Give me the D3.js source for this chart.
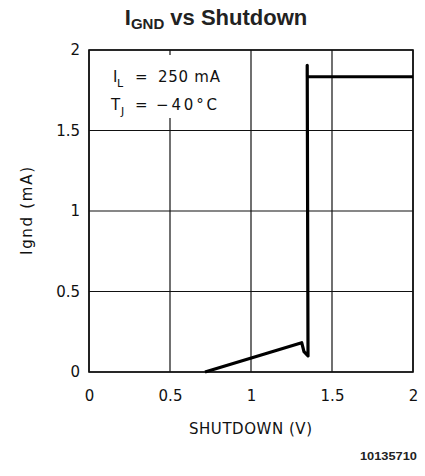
<!DOCTYPE html>
<html>
<head>
<meta charset="utf-8">
<script src="https://cdn.jsdelivr.net/npm/d3@7"></script>
<style>
  body { margin: 0; background: #fff; }
  .tick text { font-family: "DejaVu Sans", sans-serif; font-size: 15px; fill: #111; }
  .lbl { font-family: "DejaVu Sans", sans-serif; fill: #111; }
</style>
</head>
<body>
<div id="chart"></div>
<script>
// data
var xTicks = [0, 0.5, 1, 1.5, 2];
var yTicks = [0, 0.5, 1, 1.5, 2];
var shutdownV = [0.716, 1.313, 1.327, 1.352, 1.347, 1.347, 1.354, 2.0];
var ignd      = [0.0,   0.182, 0.126, 0.100, 1.905, 1.834, 1.834, 1.834];

var width = 425, height = 476;
var margin = { top: 50, right: 12, bottom: 104, left: 89 };
var w = width - margin.left - margin.right;
var h = height - margin.top - margin.bottom;

var svg = d3.select("#chart").append("svg")
    .attr("width", width)
    .attr("height", height);

var x = d3.scaleLinear().domain([0, 2]).range([0, w]);
var y = d3.scaleLinear().domain([0, 2]).range([h, 0]);

var g = svg.append("g")
    .attr("transform", "translate(" + margin.left + "," + margin.top + ")");

// grid
g.append("g")
    .selectAll("line")
    .data(xTicks)
    .enter().append("line")
    .attr("x1", d => x(d)).attr("x2", d => x(d))
    .attr("y1", 0).attr("y2", h)
    .attr("stroke", "#111").attr("stroke-width", 1.2);

g.append("g")
    .selectAll("line")
    .data(yTicks)
    .enter().append("line")
    .attr("x1", 0).attr("x2", w)
    .attr("y1", d => y(d)).attr("y2", d => y(d))
    .attr("stroke", "#111").attr("stroke-width", 1.2);

// frame
g.append("rect")
    .attr("width", w).attr("height", h)
    .attr("fill", "none")
    .attr("stroke", "#111").attr("stroke-width", 1.6);

// axes (labels only)
var xAxis = g.append("g")
    .attr("transform", "translate(0," + h + ")")
    .call(d3.axisBottom(x).tickValues(xTicks).tickSize(0).tickPadding(18).tickFormat(d3.format("")));
xAxis.select(".domain").remove();

var yAxis = g.append("g")
    .call(d3.axisLeft(y).tickValues(yTicks).tickSize(0).tickPadding(9).tickFormat(d3.format("")));
yAxis.select(".domain").remove();

// annotation box
g.append("rect")
    .attr("x", 16).attr("y", 5)
    .attr("width", 122).attr("height", 63)
    .attr("fill", "#fff");

var ann = svg.append("g").attr("class", "lbl").style("font-size", "15px");

ann.append("text").attr("x", 113).attr("y", 82).text("I");
ann.append("text").attr("x", 117).attr("y", 87).style("font-size", "11px").text("L");
ann.append("text").attr("x", 135).attr("y", 82).text("=");
ann.append("text").attr("x", 158).attr("y", 82)
    .attr("textLength", 62).attr("lengthAdjust", "spacing").text("250 mA");

ann.append("text").attr("x", 111).attr("y", 110).text("T");
ann.append("text").attr("x", 121).attr("y", 115).style("font-size", "11px").text("J");
ann.append("text").attr("x", 135).attr("y", 110).text("=");
ann.append("text").attr("x", 156).attr("y", 110)
    .attr("textLength", 61).attr("lengthAdjust", "spacing").text("\u221240\u00B0C");

// curve
var pts = shutdownV.map((v, i) => [v, ignd[i]]);
g.append("path")
    .datum(pts)
    .attr("d", d3.line().x(d => x(d[0])).y(d => y(d[1])))
    .attr("fill", "none")
    .attr("stroke", "#000")
    .attr("stroke-width", 3.2)
    .attr("stroke-linejoin", "round");

// titles
var title = svg.append("text")
    .attr("x", 216).attr("y", 25)
    .attr("text-anchor", "middle")
    .style("font-family", "Liberation Sans, Arial, sans-serif")
    .style("font-weight", "bold")
    .style("font-size", "22px")
    .attr("fill", "#222");
title.append("tspan").text("I");
title.append("tspan").attr("dy", 4).style("font-size", "15px").text("GND");
title.append("tspan").attr("dy", -4).text(" vs Shutdown");

svg.append("text")
    .attr("class", "lbl")
    .attr("x", margin.left + w / 2 - 0.5)
    .attr("y", 434)
    .attr("text-anchor", "middle")
    .style("font-size", "15px")
    .attr("textLength", 123).attr("lengthAdjust", "spacing")
    .text("SHUTDOWN (V)");

svg.append("text")
    .attr("class", "lbl")
    .attr("transform", "translate(32,211) rotate(-90)")
    .attr("text-anchor", "middle")
    .style("font-size", "15px")
    .attr("textLength", 88).attr("lengthAdjust", "spacing")
    .text("Ignd (mA)");

svg.append("text")
    .attr("x", 417).attr("y", 460)
    .attr("text-anchor", "end")
    .style("font-family", "Liberation Sans, Arial, sans-serif")
    .style("font-weight", "bold")
    .style("font-size", "11.5px")
    .attr("textLength", 57).attr("lengthAdjust", "spacingAndGlyphs")
    .attr("fill", "#222")
    .text("10135710");
</script>
</body>
</html>
